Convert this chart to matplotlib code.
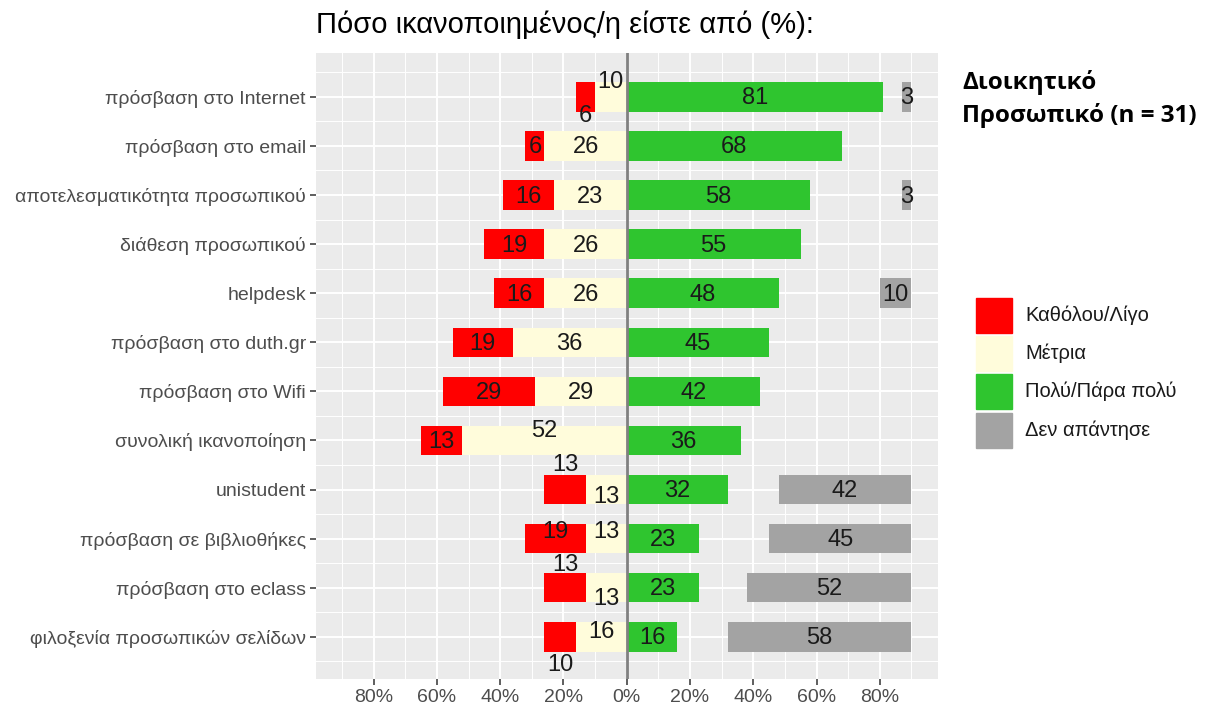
import matplotlib
matplotlib.use("Agg")
import matplotlib.pyplot as plt
from matplotlib.patches import Rectangle

plt.rcParams['font.family'] = ['Liberation Sans', 'DejaVu Sans']

# categories, top to bottom
cats = ["πρόσβαση στο Internet", "πρόσβαση στο email", "αποτελεσματικότητα προσωπικού",
        "διάθεση προσωπικού", "helpdesk", "πρόσβαση στο duth.gr", "πρόσβαση στο Wifi",
        "συνολική ικανοποίηση", "unistudent", "πρόσβαση σε βιβλιοθήκες",
        "πρόσβαση στο eclass", "φιλοξενία προσωπικών σελίδων"]
low = [6, 6, 16, 19, 16, 19, 29, 13, 13, 19, 13, 10]      # Καθόλου/Λίγο
mid = [10, 26, 23, 26, 26, 36, 29, 52, 13, 13, 13, 16]    # Μέτρια
high = [81, 68, 58, 55, 48, 45, 42, 36, 32, 23, 23, 16]   # Πολύ/Πάρα πολύ
na = [3, 0, 3, 0, 10, 0, 0, 0, 42, 45, 52, 58]            # Δεν απάντησε

series_names = ["Καθόλου/Λίγο", "Μέτρια", "Πολύ/Πάρα πολύ", "Δεν απάντησε"]
colors = ["#FF0000", "#FFFCDB", "#2FC52F", "#A3A3A3"]
na_end = 90

# small labels moved up/down like in the original (row index, series) -> dy
nudge = {(0, 0): -0.36, (0, 1): 0.33,
         (7, 1): 0.22,
         (8, 0): 0.53, (8, 1): -0.13,
         (9, 0): 0.16, (9, 1): 0.16,
         (10, 0): 0.49, (10, 1): -0.2,
         (11, 0): -0.55, (11, 1): 0.12}

n = len(cats)
y = [n - i for i in range(n)]
h = 0.6

fig = plt.figure(figsize=(12.05, 7.09), dpi=100)
ax = fig.add_axes([315.7 / 1205, 1 - 679 / 709, (938 - 315.7) / 1205, (679 - 52.7) / 709])
ax.set_facecolor("#EBEBEB")

mid_left = [-m for m in mid]
low_left = [-(m + l) for m, l in zip(mid, low)]
na_left = [na_end - v for v in na]

ax.barh(y, mid, left=mid_left, height=h, color=colors[1], zorder=2)
ax.barh(y, low, left=low_left, height=h, color=colors[0], zorder=2)
ax.barh(y, high, left=0, height=h, color=colors[2], zorder=2)
ax.barh(y, na, left=na_left, height=h, color=colors[3], zorder=2)

for i in range(n):
    segs = [(low_left[i] + low[i] / 2, low[i]),
            (mid_left[i] + mid[i] / 2, mid[i]),
            (high[i] / 2, high[i]),
            (na_left[i] + na[i] / 2, na[i])]
    for k, (xc, v) in enumerate(segs):
        if v == 0:
            continue
        ax.text(xc, y[i] - 0.03 + nudge.get((i, k), 0), str(v), ha="center", va="center",
                fontsize=17, color="#1A1A1A", zorder=4)

ax.axvline(0, color="#808080", lw=2, zorder=3)

ax.set_xlim(-98.3, 98.4)
ax.set_ylim(0.14, 12.9)
major = [-80, -60, -40, -20, 0, 20, 40, 60, 80]
ax.set_xticks(major)
ax.set_xticklabels([f"{abs(v)}%" for v in major])
ax.set_xticks([-90, -70, -50, -30, -10, 10, 30, 50, 70, 90], minor=True)
ax.set_yticks(y)
ax.set_yticklabels(cats)
ax.set_yticks([v + 0.5 for v in range(0, n + 1)], minor=True)
ax.grid(which="major", color="white", lw=1.4, zorder=0)
ax.grid(which="minor", color="white", lw=0.7, zorder=0)
ax.set_axisbelow(True)
for s in ax.spines.values():
    s.set_visible(False)
ax.tick_params(which="major", length=4, width=1.1, color="#333333", labelsize=14,
               labelcolor="#4D4D4D", pad=3)
ax.tick_params(which="minor", length=0)

fig.text(316 / 1205, 1 - 25 / 709, "Πόσο ικανοποιημένος/η είστε από (%):",
         fontsize=21, ha="left", va="center", color="black")

fig.text(962 / 1205, 1 - 99 / 709, "Διοικητικό\nΠροσωπικό (n = 31)", family="Open Sans",
         fontweight="bold", fontsize=17.5, ha="left", va="center", linespacing=1.45)

# legend
key_top = [298, 336, 374, 413]
for name, col, top in zip(series_names, colors, key_top):
    fig.add_artist(Rectangle((976 / 1205, 1 - (top + 35) / 709), 36 / 1205, 35 / 709,
                             transform=fig.transFigure, color=col))
    fig.text(1025 / 1205, 1 - (top + 17.5) / 709, name, fontsize=14.5, ha="left",
             va="center", color="#1A1A1A")

fig.savefig("out.png", dpi=100)
